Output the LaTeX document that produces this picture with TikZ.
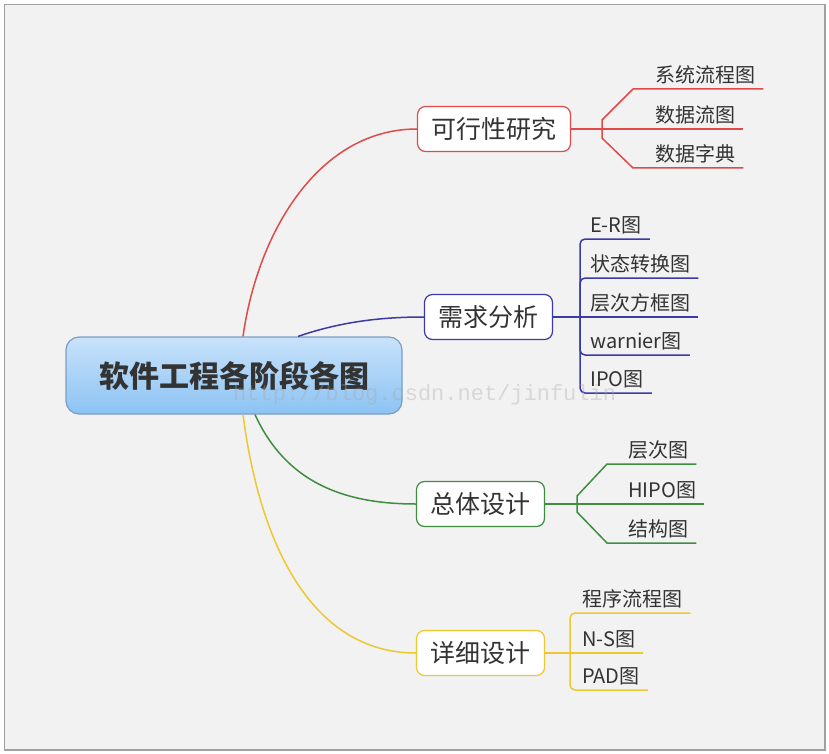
\documentclass[tikz,border=0pt]{standalone}
\usepackage{fontspec}
\setmainfont{Noto Sans CJK SC}
\newfontfamily\wmfont{Liberation Mono}
\usetikzlibrary{positioning}

\definecolor{bgfill}{HTML}{F2F2F2}
\definecolor{framegray}{HTML}{A0A0A0}
\definecolor{txt}{HTML}{333333}
\definecolor{kxred}{HTML}{E04A4A}
\definecolor{xqblue}{HTML}{3A3AA8}
\definecolor{ztgreen}{HTML}{3E8E3E}
\definecolor{xxyellow}{HTML}{EEC832}
\definecolor{coretop}{HTML}{C8E2FB}
\definecolor{corebot}{HTML}{8CC3F3}
\definecolor{coreline}{HTML}{7E9DBE}

\tikzset{
  corebox/.style={draw=coreline,line width=1.2pt,rounded corners=13pt,top color=coretop,bottom color=corebot,
    minimum width=336pt,minimum height=77pt,font=\fontsize{30}{30}\selectfont\bfseries,text=txt},
  branchbox/.style={draw=#1,fill=white,line width=1.2pt,rounded corners=8pt,minimum height=45pt,
    inner xsep=14pt,font=\fontsize{25}{25}\selectfont,text=txt},
  leaf/.style={anchor=south west,inner sep=0pt,text height=15pt,text depth=6pt,font=\fontsize{20}{20}\selectfont,text=txt},
  wire/.style={draw=#1,line width=1.5pt,line join=round},
}

\begin{document}
\begin{tikzpicture}[x=1pt,y=-1pt]
  \useasboundingbox (0,0) rectangle (829,754);
  \fill[white] (0,0) rectangle (829,754);
  \draw[fill=bgfill,draw=framegray,line width=1.5pt] (4.5,4.5) rectangle (825,750);

  % centre and the four stages
  \node[corebox] (core) at (234,375.5) {软件工程各阶段各图};
  \node[branchbox=kxred] (kx) at (494,129) {可行性研究};
  \node[branchbox=xqblue] (xq) at (488.5,317) {需求分析};
  \node[branchbox=ztgreen] (zt) at (480.5,504) {总体设计};
  \node[branchbox=xxyellow] (xx) at (480.5,653) {详细设计};

  \draw[wire=kxred] ([xshift=9pt]core.north) .. controls (258,230) and (320,129) .. (kx.west);
  \draw[wire=xqblue] ([xshift=64pt]core.north) .. controls (340,322) and (380,317) .. (xq.west);
  \draw[wire=ztgreen] ([xshift=21pt]core.south) .. controls (285,480) and (340,504) .. (zt.west);
  \draw[wire=xxyellow] ([xshift=9pt]core.south) .. controls (262,560) and (320,653) .. (xx.west);

  % feasibility
  \coordinate (ja) at (602,129);
  \node[leaf] (a1) at (655,89) {系统流程图};
  \node[leaf] (a2) at (655,129) {数据流图};
  \node[leaf] (a3) at (655,168) {数据字典};
  \draw[wire=kxred] (kx.east) -- (ja);
  \draw[wire=kxred] (ja) -- ++(0,-9) -- ([xshift=-22pt]a1.south west) -- ([xshift=8pt]a1.south east);
  \draw[wire=kxred] (ja) -- (a2.south west) -- ([xshift=8pt]a2.south east);
  \draw[wire=kxred] (ja) -- ++(0,9) -- ([xshift=-22pt]a3.south west) -- ([xshift=8pt]a3.south east);

  % requirements
  \coordinate (jb) at (580,317);
  \node[leaf] (b1) at (590,239) {E-R图};
  \node[leaf] (b2) at (590,278) {状态转换图};
  \node[leaf] (b3) at (590,317) {层次方框图};
  \node[leaf] (b4) at (590,355) {warnier图};
  \node[leaf] (b5) at (590,393) {IPO图};
  \draw[wire=xqblue] (xq.east) -- (jb);
  \foreach \k in {b1,b2,b4,b5}
    \draw[wire=xqblue,rounded corners=5pt] (jb) |- ([xshift=8pt]\k.south east);
  \draw[wire=xqblue] (jb) -- ([xshift=8pt]b3.south east);

  % overall design
  \coordinate (jc) at (577,504);
  \node[leaf] (c1) at (628,464) {层次图};
  \node[leaf] (c2) at (628,504) {HIPO图};
  \node[leaf] (c3) at (628,543) {结构图};
  \draw[wire=ztgreen] (zt.east) -- (jc);
  \draw[wire=ztgreen] (jc) -- ++(0,-8) -- ([xshift=-21pt]c1.south west) -- ([xshift=8pt]c1.south east);
  \draw[wire=ztgreen] (jc) -- (c2.south west) -- ([xshift=8pt]c2.south east);
  \draw[wire=ztgreen] (jc) -- ++(0,8) -- ([xshift=-21pt]c3.south west) -- ([xshift=8pt]c3.south east);

  % detailed design
  \coordinate (jd) at (570,653);
  \node[leaf] (d1) at (582,613) {程序流程图};
  \node[leaf] (d2) at (582,653) {N-S图};
  \node[leaf] (d3) at (582,690) {PAD图};
  \draw[wire=xxyellow] (xx.east) -- (jd);
  \foreach \k in {d1,d3}
    \draw[wire=xxyellow,rounded corners=5pt] (jd) |- ([xshift=8pt]\k.south east);
  \draw[wire=xxyellow] (jd) -- ([xshift=8pt]d2.south east);

  \node[anchor=base west,inner sep=0pt,font=\wmfont\fontsize{22}{22}\selectfont,text=gray!70,opacity=0.35] (wm) at (233,400) {http://blog.csdn.net/jinfulin};
\end{tikzpicture}
\end{document}
